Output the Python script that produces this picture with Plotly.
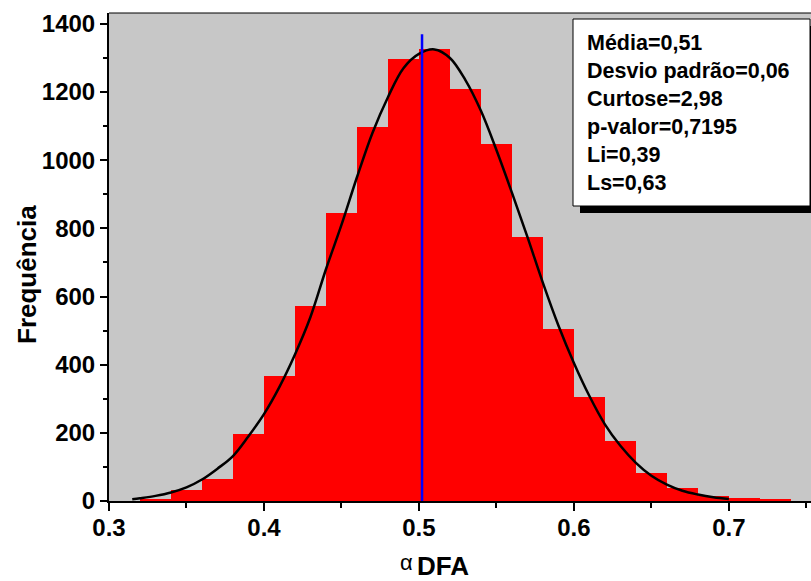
import plotly.graph_objects as go

# Histogram of alpha-DFA values (bins of width 0.02, starting at the left edge)
bin_starts = [0.32, 0.34, 0.36, 0.38, 0.40, 0.42, 0.44, 0.46, 0.48, 0.50, 0.52,
              0.54, 0.56, 0.58, 0.60, 0.62, 0.64, 0.66, 0.68, 0.70, 0.72]
counts = [4, 31, 65, 197, 366, 572, 846, 1098, 1296, 1327, 1208,
          1048, 774, 505, 305, 177, 81, 37, 16, 9, 3]
bin_width = 0.02

# Fitted normal curve
curve_x = [0.315, 0.32, 0.33, 0.34, 0.35, 0.36, 0.37, 0.38, 0.39, 0.40, 0.41, 0.42,
           0.43, 0.44, 0.45, 0.46, 0.47, 0.48, 0.49, 0.50, 0.51, 0.52, 0.53, 0.54,
           0.55, 0.56, 0.57, 0.58, 0.59, 0.60, 0.61, 0.62, 0.63, 0.64, 0.65, 0.66,
           0.67, 0.68, 0.69, 0.70]
curve_y = [5, 8, 15, 25, 40, 63, 95, 132, 190, 255, 335, 430,
           540, 680, 810, 950, 1080, 1185, 1270, 1312, 1325, 1300, 1235, 1145,
           1030, 905, 775, 640, 515, 405, 308, 225, 162, 112, 74, 48,
           30, 19, 11, 6]

# Vertical reference line
ref_x = [0.502, 0.502]
ref_y = [0, 1370]

stats_lines = ["Média=0,51", "Desvio padrão=0,06", "Curtose=2,98",
               "p-valor=0,7195", "Li=0,39", "Ls=0,63"]

x_range = [0.3, 0.753]
y_range = [0, 1432]
x_ticks = [0.3, 0.4, 0.5, 0.6, 0.7]
y_ticks = [0, 200, 400, 600, 800, 1000, 1200, 1400]

W, H = 811, 581
ML, MR, MT, MB = 109, 0, 13, 80
PW, PH = W - ML - MR, H - MT - MB


def px(xp):
    return (xp - ML) / PW


def py(yp):
    return (H - MB - yp) / PH


FONT = "Arial, Liberation Sans, sans-serif"

fig = go.Figure()

fig.add_trace(go.Bar(
    x=[s + bin_width / 2 for s in bin_starts], y=counts, width=bin_width,
    marker=dict(color="#FF0000", line=dict(width=0)), showlegend=False,
))
fig.add_trace(go.Scatter(
    x=curve_x, y=curve_y, mode="lines", line=dict(color="black", width=2.5, shape="spline"),
    showlegend=False,
))
fig.add_trace(go.Scatter(
    x=ref_x, y=ref_y, mode="lines", line=dict(color="#0000FF", width=2.5),
    showlegend=False,
))

# Statistics box with drop shadow
fig.add_shape(type="rect", xref="paper", yref="paper",
              x0=px(580), x1=px(820), y0=py(213), y1=py(26),
              fillcolor="black", line=dict(width=0))
fig.add_shape(type="rect", xref="paper", yref="paper",
              x0=px(573), x1=px(810), y0=py(206), y1=py(19),
              fillcolor="white", line=dict(color="black", width=1))
fig.add_annotation(xref="paper", yref="paper", x=px(585), y=py(113),
                   xanchor="left", yanchor="middle", align="left", showarrow=False,
                   text="<br>".join(stats_lines),
                   font=dict(family=FONT, size=21.5, color="black", weight="bold"))

# Top frame line
fig.add_shape(type="line", xref="paper", yref="paper", x0=0, x1=1, y0=1, y1=1,
              line=dict(color="black", width=1))

# Axis titles
fig.add_annotation(xref="paper", yref="paper", x=px(27), y=py(275), textangle=-90,
                   xanchor="center", yanchor="middle", showarrow=False, text="Frequência",
                   font=dict(family=FONT, size=26, color="black", weight="bold"))
fig.add_annotation(xref="paper", yref="paper", x=px(443), y=py(566),
                   xanchor="center", yanchor="middle", showarrow=False,
                   text="DFA", font=dict(family=FONT, size=26, color="black", weight="bold"))
fig.add_annotation(xref="paper", yref="paper", x=px(406), y=py(562),
                   xanchor="center", yanchor="middle", showarrow=False,
                   text="α", font=dict(family=FONT, size=22, color="black"))

fig.update_layout(
    width=W, height=H, margin=dict(l=ML, r=MR, t=MT, b=MB),
    paper_bgcolor="white", plot_bgcolor="#C7C7C7", bargap=0,
    font=dict(family=FONT, color="black"),
    xaxis=dict(range=x_range, tickvals=x_ticks, ticktext=[f"{v:.1f}" for v in x_ticks],
               showgrid=False, zeroline=False, showline=True, linecolor="black", linewidth=2,
               ticks="outside", ticklen=8, tickwidth=1.5, tickcolor="black",
               ticklabelstandoff=-4,
               minor=dict(dtick=0.05, tick0=0.3, ticks="outside", ticklen=5, tickwidth=1.5,
                          tickcolor="black", showgrid=False),
               tickfont=dict(family=FONT, size=24, color="black", weight="bold")),
    yaxis=dict(range=y_range, tickvals=y_ticks, showgrid=False, zeroline=False,
               showline=True, linecolor="black", linewidth=2,
               ticks="outside", ticklen=7, tickwidth=1.5, tickcolor="black",
               minor=dict(dtick=100, tick0=0, ticks="outside", ticklen=4, tickwidth=1.5,
                          tickcolor="black", showgrid=False),
               tickfont=dict(family=FONT, size=24, color="black", weight="bold")),
)

fig.write_html("out.html")
